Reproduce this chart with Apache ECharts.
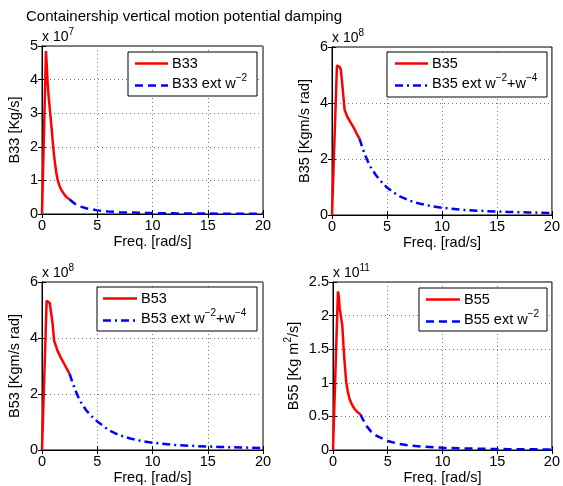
<!DOCTYPE html>
<html><head><meta charset="utf-8">
<script src="https://cdn.jsdelivr.net/npm/echarts@6/dist/echarts.min.js"></script>
<style>html,body{margin:0;padding:0;background:#fff}#c{width:563px;height:486px}</style>
</head><body><div id="c"></div><script>
// ---- data (values in units of the axis multiplier shown as "x 10^n") ----
const titleText = 'Containership vertical motion potential damping';
const xTicks = [0, 5, 10, 15, 20];

// B33 (x 10^7 Kg/s)
const freqB33 = [0, 0.36, 0.45, 0.5, 0.6, 0.7, 0.8, 0.9, 1.0, 1.1, 1.2, 1.3, 1.4, 1.6, 1.8, 2.0, 2.2, 2.5];
const valB33  = [0, 4.85, 4.3, 3.95, 3.5, 3.15, 2.8, 2.45, 2.05, 1.72, 1.45, 1.22, 1.04, 0.82, 0.69, 0.59, 0.51, 0.43];
const freqB33ext = [2.5, 3, 3.5, 4, 5, 6, 7, 8, 10, 12, 14, 16, 18, 20];
const valB33ext  = [0.43, 0.30, 0.22, 0.17, 0.108, 0.075, 0.055, 0.042, 0.027, 0.019, 0.014, 0.011, 0.0083, 0.0067];

// B35 (x 10^8 Kgm/s rad)
const freqB35 = [0, 0.45, 0.55, 0.7, 0.8, 0.95, 1.15, 1.4, 1.7, 2.0, 2.25, 2.5];
const valB35  = [0, 5.35, 5.32, 5.28, 5.2, 4.6, 3.75, 3.5, 3.3, 3.1, 2.9, 2.73];
const freqB35ext = [2.5, 2.75, 3, 3.25, 3.5, 4, 4.5, 5, 6, 7, 8, 9, 10, 12, 14, 16, 18, 20];
const valB35ext  = [2.73, 2.42, 2.15, 1.92, 1.72, 1.42, 1.18, 0.98, 0.7, 0.52, 0.4, 0.32, 0.26, 0.18, 0.14, 0.11, 0.09, 0.07];

// B53 (x 10^8 Kgm/s rad)
const freqB53 = [0, 0.42, 0.55, 0.7, 0.8, 0.95, 1.1, 1.4, 1.7, 2.0, 2.25, 2.5];
const valB53  = [0, 5.33, 5.32, 5.25, 5.18, 4.55, 3.9, 3.55, 3.3, 3.08, 2.9, 2.72];
const freqB53ext = [2.5, 2.75, 3, 3.25, 3.5, 4, 4.5, 5, 6, 7, 8, 9, 10, 12, 14, 16, 18, 20];
const valB53ext  = [2.72, 2.42, 2.15, 1.92, 1.72, 1.42, 1.2, 1.02, 0.72, 0.53, 0.41, 0.32, 0.26, 0.18, 0.14, 0.11, 0.09, 0.07];

// B55 (x 10^11 Kg m^2/s)
const freqB55 = [0, 0.45, 0.52, 0.62, 0.75, 0.85, 0.97, 1.1, 1.21, 1.35, 1.51, 1.75, 1.97, 2.2, 2.5];
const valB55  = [0, 2.36, 2.3, 2.1, 2.12, 1.85, 1.51, 1.22, 1.01, 0.87, 0.76, 0.67, 0.61, 0.57, 0.53];
const freqB55ext = [2.5, 3, 3.5, 4, 5, 6, 7, 8, 10, 12, 14, 16, 18, 20];
const valB55ext  = [0.53, 0.37, 0.27, 0.21, 0.133, 0.092, 0.068, 0.052, 0.033, 0.023, 0.017, 0.013, 0.0104, 0.0083];

const yTicksB33 = [0, 1, 2, 3, 4, 5];
const yTicksB35 = [0, 2, 4, 6];
const yTicksB53 = [0, 2, 4, 6];
const yTicksB55 = [0, 0.5, 1, 1.5, 2, 2.5];

// ---- layout & styles ----
const FONT = '"Liberation Sans", Arial, Helvetica, sans-serif';
const FS = 14.5;
const zip = (a, b) => a.map((v, i) => [v, b[i]]);
const SUP = {fontSize: 10, fontFamily: FONT, color: '#000', lineHeight: 10, verticalAlign: 'top'};
const BASE = {fontSize: FS, fontFamily: FONT, color: '#000', lineHeight: 22};

const panels = [
  {grid: {left: 42, top: 46, width: 221, height: 168}, yTicks: yTicksB33, exp: '7',
   yName: 'B33 [Kg/s]',
   main: {name: 'B33', data: zip(freqB33, valB33)},
   ext: {name: 'B33 ext w{s|−2}', data: zip(freqB33ext, valB33ext), dash: [8, 5]},
   legend: {x: 128, y: 52, w: 129, h: 44, lx: 135, lw: 33}},
  {grid: {left: 332, top: 47, width: 222, height: 168}, yTicks: yTicksB35, exp: '8',
   yName: 'B35 [Kgm/s rad]',
   main: {name: 'B35', data: zip(freqB35, valB35)},
   ext: {name: 'B35 ext w{s|−2}+w{s|−4}', data: zip(freqB35ext, valB35ext), dash: [8, 4, 2, 4]},
   legend: {x: 387, y: 52, w: 160, h: 45, lx: 395, lw: 33}},
  {grid: {left: 42, top: 282, width: 221, height: 168}, yTicks: yTicksB53, exp: '8',
   yName: 'B53 [Kgm/s rad]',
   main: {name: 'B53', data: zip(freqB53, valB53)},
   ext: {name: 'B53 ext w{s|−2}+w{s|−4}', data: zip(freqB53ext, valB53ext), dash: [8, 4, 2, 4]},
   legend: {x: 97, y: 287, w: 160, h: 44, lx: 103, lw: 34}},
  {grid: {left: 333, top: 282, width: 221, height: 168}, yTicks: yTicksB55, exp: '11',
   yName: 'B55 [Kg m{s|2}/s]',
   main: {name: 'B55', data: zip(freqB55, valB55)},
   ext: {name: 'B55 ext w{s|−2}', data: zip(freqB55ext, valB55ext), dash: [8, 5]},
   legend: {x: 419, y: 288, w: 128, h: 43, lx: 426, lw: 34}}
];

const grid = [], xAxis = [], yAxis = [], series = [], graphic = [];
panels.forEach((p, i) => {
  grid.push(Object.assign({show: true, borderColor: '#000', borderWidth: 1, containLabel: false}, p.grid));
  const yMax = p.yTicks[p.yTicks.length - 1];
  const yInt = p.yTicks[1] - p.yTicks[0];
  xAxis.push({
    type: 'value', gridIndex: i, min: xTicks[0], max: xTicks[xTicks.length - 1], interval: xTicks[1] - xTicks[0],
    name: 'Freq. [rad/s]', nameLocation: 'middle', nameGap: 20,
    nameTextStyle: {fontSize: FS, fontFamily: FONT, color: '#000'},
    axisLine: {show: true, lineStyle: {color: '#000', width: 1}},
    axisTick: {show: true, inside: true, length: 4, lineStyle: {color: '#000'}},
    axisLabel: {fontSize: FS, fontFamily: FONT, color: '#000', margin: 4},
    splitLine: {show: true, lineStyle: {color: '#777', type: [1, 3], width: 1}}
  });
  xAxis.push({
    type: 'value', gridIndex: i, position: 'top', min: xTicks[0], max: xTicks[xTicks.length - 1], interval: xTicks[1] - xTicks[0],
    axisLine: {show: true, lineStyle: {color: '#000'}},
    axisTick: {show: true, inside: true, length: 4, lineStyle: {color: '#000'}},
    axisLabel: {show: false}, splitLine: {show: false}
  });
  yAxis.push({
    type: 'value', gridIndex: i, min: 0, max: yMax, interval: yInt,
    name: p.yName, nameLocation: 'middle', nameGap: 13, nameRotate: 90,
    nameTextStyle: Object.assign({}, BASE, {rich: {s: SUP}}),
    axisLine: {show: true, lineStyle: {color: '#000', width: 1}},
    axisTick: {show: true, inside: true, length: 4, lineStyle: {color: '#000'}},
    axisLabel: {fontSize: FS, fontFamily: FONT, color: '#000', margin: 4},
    splitLine: {show: true, lineStyle: {color: '#777', type: [1, 3], width: 1}}
  });
  yAxis.push({
    type: 'value', gridIndex: i, position: 'right', min: 0, max: yMax, interval: yInt,
    axisLine: {show: true, lineStyle: {color: '#000'}},
    axisTick: {show: true, inside: true, length: 4, lineStyle: {color: '#000'}},
    axisLabel: {show: false}, splitLine: {show: false}
  });
  series.push({
    type: 'line', name: p.ext.name, xAxisIndex: 2 * i, yAxisIndex: 2 * i, data: p.ext.data,
    showSymbol: false, symbol: 'none', smooth: false, z: 3,
    lineStyle: {color: '#0000ff', width: 2.5, type: p.ext.dash}
  });
  series.push({
    type: 'line', name: p.main.name, xAxisIndex: 2 * i, yAxisIndex: 2 * i, data: p.main.data,
    showSymbol: false, symbol: 'none', smooth: false, z: 4,
    lineStyle: {color: '#ff0000', width: 2.5, type: 'solid'}
  });
  // exponent label
  graphic.push({
    type: 'text', left: p.grid.left, top: p.grid.top - 19, z: 10,
    style: {text: 'x 10{s|' + p.exp + '}', font: '14px ' + FONT, fill: '#000',
            rich: {s: {fontSize: 10, fontFamily: FONT, fill: '#000', lineHeight: 10, verticalAlign: 'top'}},
            lineHeight: 21}
  });
  // legend
  const L = p.legend;
  graphic.push({type: 'rect', shape: {x: L.x, y: L.y, width: L.w, height: L.h}, z: 20,
    style: {fill: '#fff', stroke: '#000', lineWidth: 1}});
  const r1 = L.y + 11.5, r2 = L.y + 33.5;
  graphic.push({type: 'line', shape: {x1: L.lx, y1: r1, x2: L.lx + L.lw, y2: r1}, z: 21,
    style: {stroke: '#ff0000', lineWidth: 2.5}});
  graphic.push({type: 'line', shape: {x1: L.lx, y1: r2, x2: L.lx + L.lw, y2: r2}, z: 21,
    style: {stroke: '#0000ff', lineWidth: 2.5, lineDash: p.ext.dash}});
  const tx = L.lx + L.lw + 4;
  graphic.push({type: 'text', x: tx, y: r1, z: 22,
    style: {text: p.main.name, font: FS + 'px ' + FONT, fill: '#000', verticalAlign: 'middle'}});
  graphic.push({type: 'text', x: tx, y: r2 - 2, z: 22,
    style: {text: p.ext.name, font: FS + 'px ' + FONT, fill: '#000', verticalAlign: 'middle', lineHeight: 21,
            rich: {s: {fontSize: 10, fontFamily: FONT, fill: '#000', lineHeight: 10, verticalAlign: 'top'}}}});
});

const chart = echarts.init(document.getElementById('c'), null, {renderer: 'canvas'});
chart.setOption({
  animation: false,
  backgroundColor: '#fff',
  title: {text: titleText, left: 21, top: 4, textStyle: {fontSize: 15, fontWeight: 'normal', fontFamily: FONT, color: '#000'}},
  grid, xAxis, yAxis, series, graphic
});
</script></body></html>
